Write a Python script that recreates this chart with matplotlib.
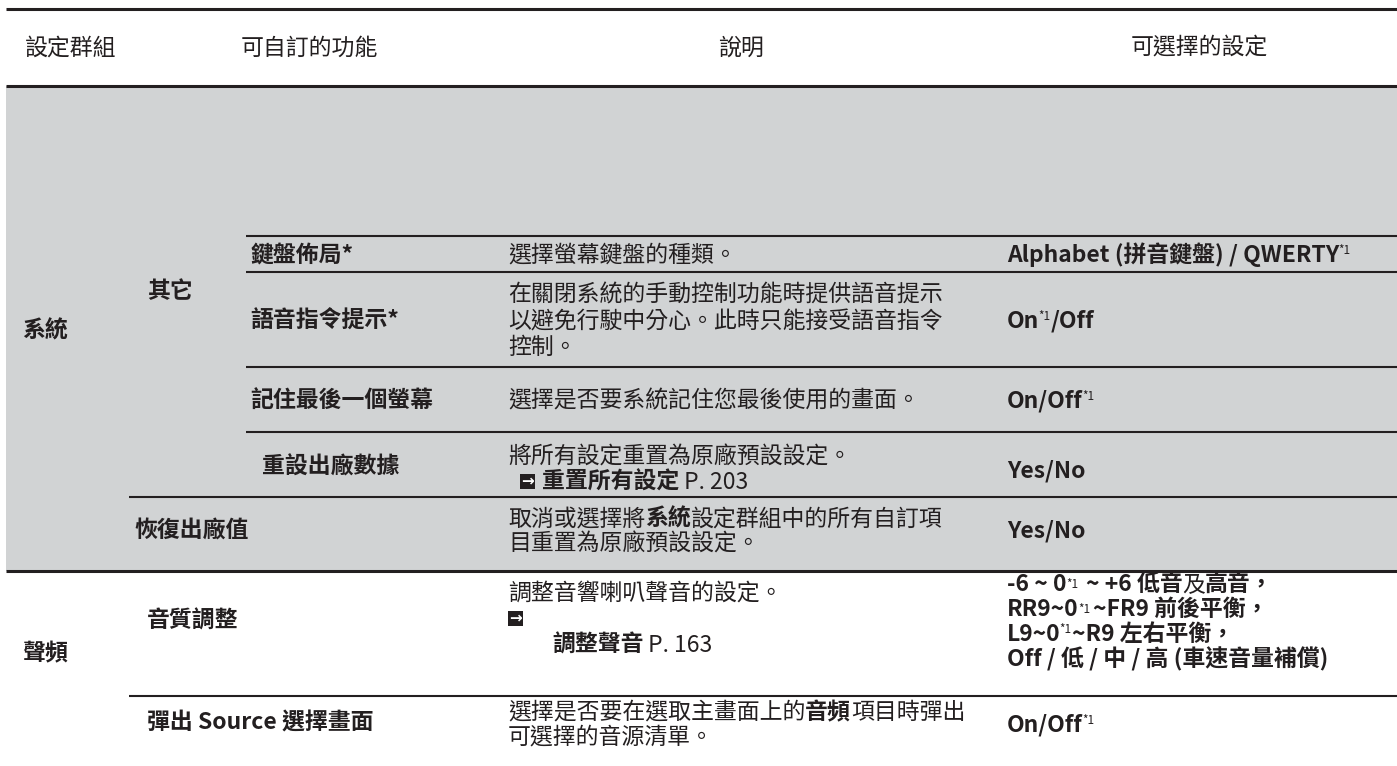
import matplotlib
matplotlib.use("Agg")
import matplotlib.pyplot as plt
from matplotlib.patches import Rectangle

plt.rcParams['font.family'] = ['Noto Sans CJK TC', 'DejaVu Sans']

# ---------------- data ----------------
HEADERS = ['設定群組', '可自訂的功能', '說明', '可選擇的設定']
GROUPS = ['系統', '聲頻']
SUBGROUPS = ['其它']
FEATURES = ['鍵盤佈局*', '語音指令提示*', '記住最後一個螢幕', '重設出廠數據',
            '恢復出廠值', '音質調整', '彈出 Source 選擇畫面']
DESCRIPTIONS = [
    [[('選擇螢幕鍵盤的種類。', 'r')]],
    [[('在關閉系統的手動控制功能時提供語音提示', 'r')],
     [('以避免行駛中分心。此時只能接受語音指令', 'r')],
     [('控制。', 'r')]],
    [[('選擇是否要系統記住您最後使用的畫面。', 'r')]],
    [[('將所有設定重置為原廠預設設定。', 'r')],
     [('', 'indent'), ('→', 'icon'), ('重置所有設定', 'b'), ('P. 203', 'rs')]],
    [[('取消或選擇將', 'r'), ('系統', 'b'), ('設定群組中的所有自訂項', 'r')],
     [('目重置為原廠預設設定。', 'r')]],
    [[('調整音響喇叭聲音的設定。', 'r')],
     [('→', 'icon')],
     [('', 'indent2'), ('調整聲音', 'b'), ('P. 163', 'rs')]],
    [[('選擇是否要在選取主畫面上的', 'r'), ('音頻', 'b'), ('項目時彈出', 'r')],
     [('可選擇的音源清單。', 'r')]],
]
SETTINGS = [
    [[('Alphabet (拼音鍵盤) / QWERTY', 'b'), ('*1', 'sup')]],
    [[('On', 'b'), ('*1', 'sup'), ('/Off', 'b')]],
    [[('On/Off', 'b'), ('*1', 'sup')]],
    [[('Yes/No', 'b')]],
    [[('Yes/No', 'b')]],
    [[('-6 ~ 0', 'b'), ('*1', 'mid'), ('~ +6 低音', 'bs'), ('及', 'r'), ('高音，', 'b')],
     [('RR9~0', 'b'), ('*1', 'mid'), ('~FR9 前後平衡，', 'b')],
     [('L9~0', 'b'), ('*1', 'sup'), ('~R9 左右平衡，', 'b')],
     [('Off / 低 / 中 / 高 (車速音量補償)', 'b')]],
    [[('On/Off', 'b'), ('*1', 'sup')]],
]

# ---------------- layout ----------------
W, H = 1397, 766
INK = '#231f20'
GRAY = '#d1d3d4'
FS = 16.5
THICK = 2.2
THIN = 1.5

X_GROUP = 22
X_L1 = 147
X_L1B = 134
X_L2 = 250
X_L2B = 262
X_DESC = 508
X_SET = 1007
HEADER_X = [25, 241, 718, 1131]
HEADER_Y = 47

FEATURE_POS = [(X_L2, 254), (X_L2, 320), (X_L2, 400), (X_L2B, 466),
               (X_L1B, 530), (X_L1, 620), (X_L1, 722)]
DESC_Y = [[254], [294, 320, 346], [400], [456, 481], [518, 543],
          [593, 618, 644], [711, 736]]
SET_Y = [[254], [320], [400], [469], [530], [583, 608, 633, 658], [724]]
GROUP_POS = [(X_GROUP, 330), (X_GROUP, 652)]
SUBGROUP_POS = [(X_L1, 290)]

fig = plt.figure(figsize=(W / 100, H / 100), dpi=100)
fig.patch.set_facecolor('white')
ax = fig.add_axes([0, 0, 1, 1])
ax.set_xlim(0, W)
ax.set_ylim(H, 0)
ax.axis('off')
renderer = fig.canvas.get_renderer()

BASE = 8  # offset from visual centre to baseline

ax.add_patch(Rectangle((6, 86), W - 6, 485, facecolor=GRAY, edgecolor='none', zorder=0))


def hline(y, x0, lw):
    ax.plot([x0, W], [y, y], color=INK, lw=lw, solid_capstyle='butt', zorder=2)


hline(9, 6, THICK)
hline(85.5, 6, THICK)
for yy in [236, 272, 367, 432]:
    hline(yy, 246, THIN)
hline(497, 129, THIN)
hline(571, 6, THICK)
hline(696, 129, THIN)


def draw_runs(x, yc, runs):
    y = yc + BASE
    for text, style in runs:
        if style == 'indent':
            x += 12
            continue
        if style == 'indent2':
            x += 44
            continue
        if style == 'icon':
            s = 15
            ax.add_patch(Rectangle((x, yc - s / 2), s, s, facecolor=INK,
                                   edgecolor='none', zorder=3))
            ax.text(x + s / 2, yc, text, fontsize=11, fontweight='bold', color='white',
                    ha='center', va='center', family='DejaVu Sans', zorder=4)
            x += s + 7
            continue
        weight = 'bold' if style.startswith('b') else 'normal'
        fs = FS
        dy = 0
        lead = 0
        if style in ('rs', 'bs'):
            lead = 5
        if style == 'sup':
            fs = 8.5
            dy = -8
            lead = -1
        if style == 'mid':
            fs = 8.5
            dy = -3
            lead = 0
        x += lead
        t = ax.text(x, y + dy, text, fontsize=fs, fontweight=weight, color=INK,
                    ha='left', va='baseline')
        bb = t.get_window_extent(renderer)
        x += bb.width
        if style == 'mid':
            x += 2


for hx, h in zip(HEADER_X, HEADERS):
    ax.text(hx, HEADER_Y + BASE, h, fontsize=FS, color=INK, ha='left', va='baseline')

for (gx, gy), g in zip(GROUP_POS, GROUPS):
    ax.text(gx, gy + BASE, g, fontsize=FS, fontweight='bold', color=INK, ha='left', va='baseline')
for (sx, sy), s in zip(SUBGROUP_POS, SUBGROUPS):
    ax.text(sx, sy + BASE, s, fontsize=FS, fontweight='bold', color=INK, ha='left', va='baseline')
for (fx, fy), f in zip(FEATURE_POS, FEATURES):
    ax.text(fx, fy + BASE, f, fontsize=FS, fontweight='bold', color=INK, ha='left', va='baseline')

for lines, ys in zip(DESCRIPTIONS, DESC_Y):
    for runs, yy in zip(lines, ys):
        draw_runs(X_DESC, yy, runs)

for lines, ys in zip(SETTINGS, SET_Y):
    for runs, yy in zip(lines, ys):
        draw_runs(X_SET, yy, runs)

fig.savefig('out.png', dpi=100, facecolor='white')
